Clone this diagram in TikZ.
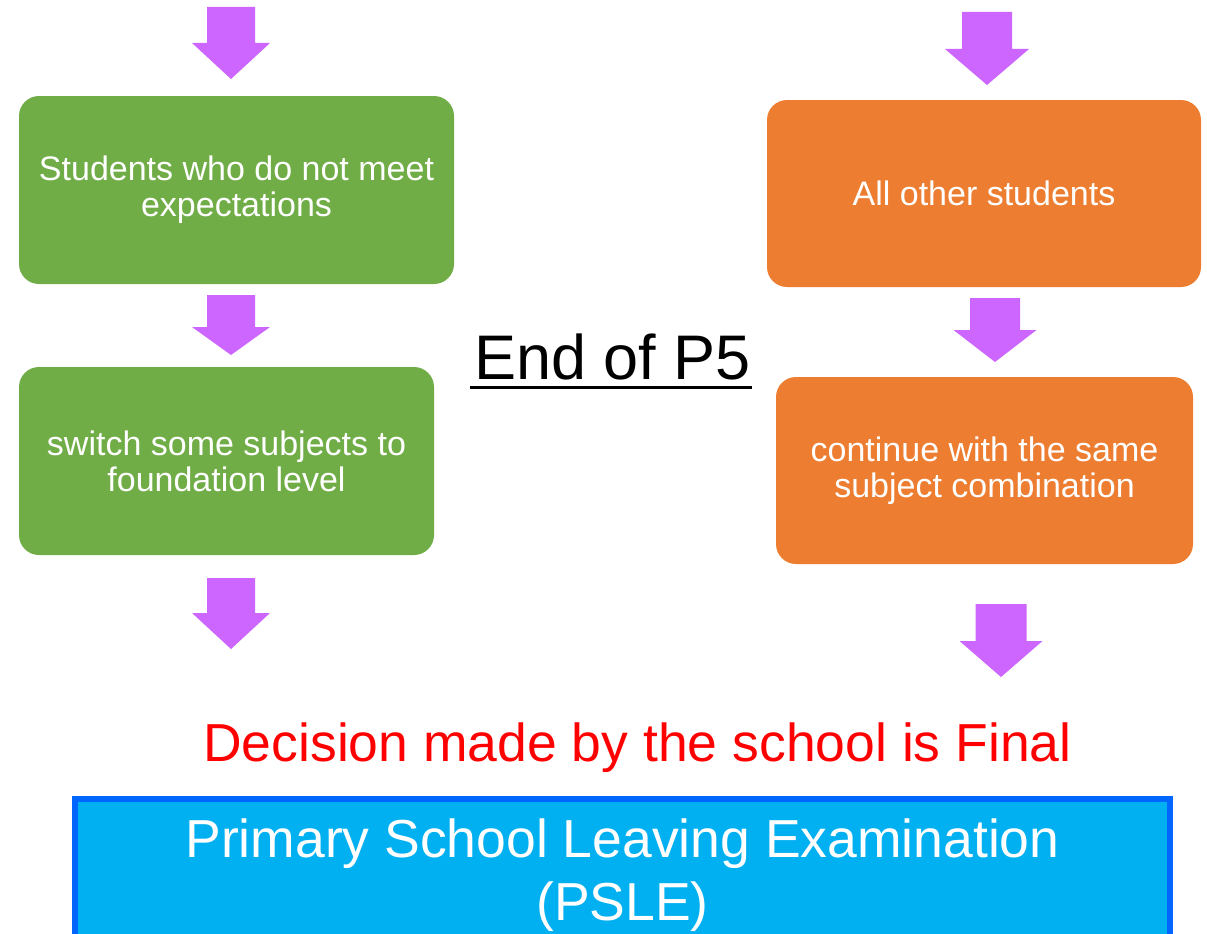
\documentclass[tikz,border=0pt]{standalone}
\usepackage{fontspec}
\setmainfont{Liberation Sans}
\definecolor{grn}{HTML}{70AD47}
\definecolor{org}{HTML}{ED7D31}
\definecolor{purp}{HTML}{CC66FF}
\definecolor{skyb}{HTML}{00B0F0}
\definecolor{bordb}{HTML}{0066FF}
\definecolor{redt}{HTML}{FF0000}
\tikzset{
  flowbox/.style={rounded corners=20pt, draw=none, text=white, align=center,
    inner sep=0pt, font=\fontsize{34}{36}\selectfont},
  greenbox/.style={flowbox, fill=grn},
  orangebox/.style={flowbox, fill=org},
  pics/downarrow/.style n args={4}{code={
    \fill[purp] (-#3,0) -- (#3,0) -- (#3,#1-#2) -- (#4,#1-#2) -- (0,#1)
      -- (-#4,#1-#2) -- (-#3,#1-#2) -- cycle;}}
}
\begin{document}
\begin{tikzpicture}[x=1pt,y=-1pt]
\useasboundingbox (0,0) rectangle (1207,934);
\clip (0,0) rectangle (1207,934);
\fill[white] (0,0) rectangle (1207,934);

% left column
\pic (a1) at (231,7) {downarrow={72}{36}{24}{39}};
\node[greenbox, minimum width=435pt, minimum height=188pt] (g1) at (236.5,190)
  {Students who do not meet\\expectations};
\pic (a2) at (231,295) {downarrow={60}{28}{24}{39}};
\node[greenbox, minimum width=415pt, minimum height=188pt] (g2) at (226.5,461)
  {switch some subjects to\\foundation level};
\pic (a3) at (231,578) {downarrow={71}{36}{24}{39}};

% right column
\pic (b1) at (987,12) {downarrow={73}{36}{25}{42}};
\node[orangebox, minimum width=434pt, minimum height=187pt] (o1) at (984,193.5)
  {All other students};
\pic (b2) at (995,298) {downarrow={64}{32}{25}{41.5}};
\node[orangebox, minimum width=417pt, minimum height=187pt] (o2) at (984.5,470.5)
  {continue with the same\\subject combination};
\pic (b3) at (1001,604) {downarrow={73}{36}{25.5}{41.5}};

% middle title
\node[anchor=base, inner sep=0pt, font=\fontsize{63}{70}\selectfont] (endp) at (612.5,379) {End of P5};
\draw[line width=3pt] ([xshift=-4pt,yshift=-8pt]endp.base west) -- ([xshift=1pt,yshift=-8pt]endp.base east);

% decision
\node[anchor=base, inner sep=0pt, text=redt, font=\fontsize{53.5}{60}\selectfont] (decision) at (637.5,761)
  {Decision made by the school is Final};

% PSLE box
\node[anchor=north, draw=bordb, line width=6pt, fill=skyb, text=white, align=center,
  minimum width=1095pt, inner xsep=0pt, inner ysep=20pt,
  font=\fontsize{53.5}{63}\selectfont] (psle) at (622.5,796)
  {Primary School Leaving Examination\\(PSLE)};
\end{tikzpicture}
\end{document}
